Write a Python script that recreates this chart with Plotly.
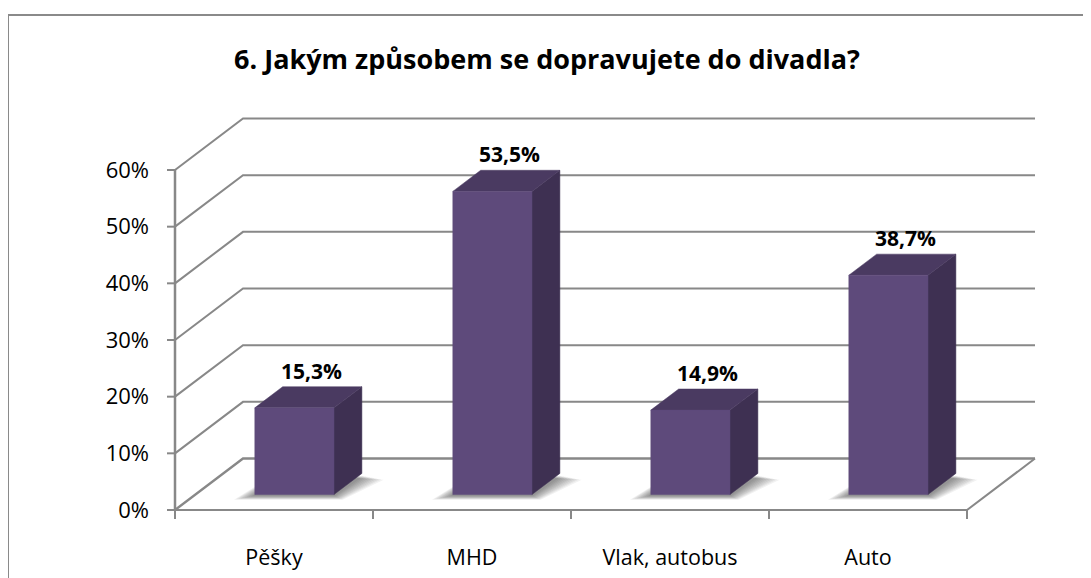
import plotly.graph_objects as go

# ---- data ----
categories = ["Pěšky", "MHD", "Vlak, autobus", "Auto"]
values = [15.3, 53.5, 14.9, 38.7]
value_labels = ["15,3%", "53,5%", "14,9%", "38,7%"]
y_ticks = [0, 10, 20, 30, 40, 50, 60]
y_tick_labels = ["0%", "10%", "20%", "30%", "40%", "50%", "60%"]
title_text = "6. Jakým způsobem se dopravujete do divadla?"

# ---- layout geometry (window pixels; page body has an 8px margin) ----
W, H = 1091, 578
OFF = 8
PL, PR, PT, PB = 171, 1040, 116, 512        # plot area in window pixels
ML, MR, MT, MB = PL - OFF, W - (PR - OFF), PT - OFF, H - (PB - OFF)
PX_CAT = 198.0          # pixels per category
PX_PCT = 340.0 / 60.0   # pixels per percent
X0PX, Y0PX = 175.0, 510.0   # front-left-bottom corner (window px)
DX = 68.0 / PX_CAT      # depth offset in category units
DY = 51.5 / PX_PCT      # depth offset in percent units
F0, F1 = 0.30, 0.71     # bar front / back depth fractions
HALF = 0.2              # half bar width
GRID = "#888888"

def xr_from_px(px):
    return (px - X0PX) / PX_CAT - 0.5

def yr_from_px(py):
    return (Y0PX - py) / PX_PCT

x_range = [xr_from_px(PL), xr_from_px(PR)]
y_range = [yr_from_px(PB), yr_from_px(PT)]

def paper_x(px):
    return (px - PL) / (PR - PL)

def paper_y(py):
    return (PB - py) / (PB - PT)

fig = go.Figure()
shapes = []

# walls / gridlines
xl, xrt = -0.5, len(categories) - 0.5
for v in y_ticks:
    shapes.append(dict(type="path", layer="below",
                       path=f"M {xl} {v} L {xl+DX} {v+DY} L {xrt+DX} {v+DY}",
                       line=dict(color=GRID, width=2.4 if v == 0 else 2)))
# floor front & right edge
shapes.append(dict(type="path", layer="below",
                   path=f"M {xl} 0 L {xrt} 0 L {xrt+DX} {DY}",
                   line=dict(color=GRID, width=2)))
# front vertical axis
shapes.append(dict(type="line", layer="below", x0=xl, x1=xl, y0=0, y1=y_ticks[-1],
                   line=dict(color=GRID, width=2.5)))
# y tick marks
for v in y_ticks:
    shapes.append(dict(type="line", xref="paper", yref="y",
                       x0=paper_x(167), x1=paper_x(175), y0=v, y1=v,
                       line=dict(color=GRID, width=2)))
# x tick marks (category boundaries)
for k in range(len(categories) + 1):
    xb = k - 0.5
    shapes.append(dict(type="line", xref="x", yref="paper",
                       x0=xb, x1=xb, y0=paper_y(510), y1=paper_y(519),
                       line=dict(color=GRID, width=2)))
# outer chart border
shapes.append(dict(type="rect", xref="paper", yref="paper",
                   x0=paper_x(8), x1=paper_x(1120), y0=paper_y(15), y1=paper_y(620),
                   line=dict(color="#8a8a8a", width=2), fillcolor="rgba(0,0,0,0)"))

# soft floor shadows (layered footprints, wider = lighter)
N_LAYERS = 10
for i, v in enumerate(values):
    cx = i + F0 * DX
    yb = F0 * DY
    a, b = cx - HALF, cx + HALF
    ddx, ddy = (F1 - F0) * DX, (F1 - F0) * DY
    for k in range(N_LAYERS, 0, -1):
        t = k / N_LAYERS
        el = 0.105 * t          # spread to the left
        er = 0.11 * t           # spread to the right
        ef = 0.2 + 0.7 * t      # spread towards the viewer
        xs = [a - el, b + er * 0.4, b + ddx + er, a + ddx - el * 0.3, a - el]
        ys = [yb - ef, yb - ef, yb + ddy * (0.9 - 0.2 * t), yb + ddy, yb - ef]
        fig.add_trace(go.Scatter(x=xs, y=ys, fill="toself", mode="lines",
                                 line=dict(width=0), fillcolor="rgba(20,20,20,0.055)",
                                 hoverinfo="skip", showlegend=False))

# bars
FRONT, TOP, SIDE = "#5E4A7B", "#4A3A61", "#3E3052"
for i, v in enumerate(values):
    cx = i + F0 * DX
    yb = F0 * DY
    a, b = cx - HALF, cx + HALF
    ddx, ddy = (F1 - F0) * DX, (F1 - F0) * DY
    yt = yb + v
    fig.add_trace(go.Scatter(x=[b, b + ddx, b + ddx, b, b], y=[yb, yb + ddy, yt + ddy, yt, yb],
                             fill="toself", mode="lines", line=dict(width=0.5, color=SIDE),
                             fillcolor=SIDE, hoverinfo="skip", showlegend=False))
    fig.add_trace(go.Scatter(x=[a, b, b + ddx, a + ddx, a], y=[yt, yt, yt + ddy, yt + ddy, yt],
                             fill="toself", mode="lines", line=dict(width=0.5, color=TOP),
                             fillcolor=TOP, hoverinfo="skip", showlegend=False))
    fig.add_trace(go.Scatter(x=[a, b, b, a, a], y=[yb, yb, yt, yt, yb],
                             fill="toself", mode="lines", line=dict(width=0.5, color=FRONT),
                             fillcolor=FRONT, hoverinfo="skip", showlegend=False,
                             name=categories[i]))

annotations = []
for i, v in enumerate(values):
    annotations.append(dict(x=i + 0.19, y=v + 9.3, text=f"<b>{value_labels[i]}</b>",
                            showarrow=False, xanchor="center", yanchor="middle",
                            font=dict(family="Open Sans", size=21, color="#000000")))

fig.update_layout(
    width=W, height=H,
    margin=dict(l=ML, r=MR, t=MT, b=MB, pad=0),
    paper_bgcolor="white", plot_bgcolor="white",
    showlegend=False,
    shapes=shapes,
    annotations=annotations,
    title=dict(text=f"<b>{title_text}</b>", x=(547 - OFF) / W, xanchor="center",
               y=1 - (60 - OFF) / H, yanchor="middle",
               font=dict(family="Open Sans", size=27, color="#000000")),
    xaxis=dict(range=x_range, tickmode="array", tickvals=list(range(len(categories))),
               ticktext=categories, ticks="", showgrid=False, zeroline=False,
               showline=False, ticklabelstandoff=30,
               tickfont=dict(family="Open Sans", size=21.5, color="#000000")),
    yaxis=dict(range=y_range, tickmode="array", tickvals=y_ticks, ticktext=y_tick_labels,
               ticks="", showgrid=False, zeroline=False, showline=False,
               ticklabelstandoff=21,
               tickfont=dict(family="Open Sans", size=22, color="#000000")),
)

fig.write_html("out.html")
